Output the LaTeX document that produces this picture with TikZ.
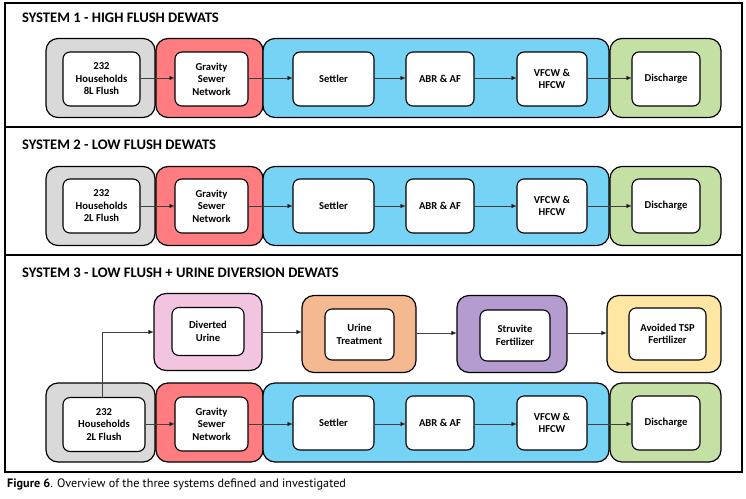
\documentclass[tikz,border=0pt]{standalone}
\usepackage{fontspec}
\setmainfont{Carlito}
\newfontfamily\capfont{PT Sans}
\usetikzlibrary{arrows.meta}
\definecolor{cgrey}{HTML}{D9D9D9}
\definecolor{cred}{HTML}{FF7C80}
\definecolor{cblue}{HTML}{76D3F5}
\definecolor{cgreen}{HTML}{C5E0A5}
\definecolor{cpink}{HTML}{F2C4DF}
\definecolor{corange}{HTML}{F4B991}
\definecolor{cpurple}{HTML}{B49BD0}
\definecolor{cyellow}{HTML}{FFE6A3}
\definecolor{carrow}{HTML}{404040}
\begin{document}
\begin{tikzpicture}[x=1pt,y=-1pt,
  outerbox/.style={draw=black,line width=1.2pt,rounded corners=12pt,minimum height=79pt,inner sep=0pt},
  innerbox/.style={draw=black,fill=white,line width=1.1pt,rounded corners=7pt,minimum height=54pt,inner sep=0pt,align=center,font=\bfseries\fontsize{10.6}{12.5}\selectfont},
  flow/.style={draw=carrow,line width=0.6pt,-{Triangle[length=5pt,width=4pt,fill=black]}},
  title/.style={anchor=west,font=\bfseries\fontsize{14.6}{16}\selectfont,inner sep=0pt},
  frame/.style={draw=black,line width=1.3pt}]
\useasboundingbox (0,0) rectangle (746,498);
% frame
\draw[frame] (5,3) rectangle (742,472);
\draw[frame] (5,127) -- (742,127);
\draw[frame] (5,255) -- (742,255);

% ---------- System 1 ----------
\node[title] (t1) at (22,18) {SYSTEM 1 - HIGH FLUSH DEWATS};
\node[outerbox,fill=cgrey,minimum width=109pt] (g1) at (100.5,78) {};
\node[outerbox,fill=cred,minimum width=107pt] (r1) at (209.5,78) {};
\node[outerbox,fill=cblue,minimum width=346pt] (b1) at (436,78) {};
\node[outerbox,fill=cgreen,minimum width=111pt] (d1) at (665.5,78) {};
\node[innerbox,minimum width=77pt] (h1) at (101.5,79) {232\\Households\\8L Flush};
\node[innerbox,minimum width=73pt] (s1) at (211.5,79) {Gravity\\Sewer\\Network};
\node[innerbox,minimum width=81pt] (st1) at (333.5,79) {Settler};
\node[innerbox,minimum width=68pt] (a1) at (440,79) {ABR \& AF};
\node[innerbox,minimum width=70pt] (v1) at (552,79) {VFCW \&\\HFCW};
\node[innerbox,minimum width=68pt] (dc1) at (666,79) {Discharge};
\draw[flow] (h1.east|-0,78) -- (s1.west|-0,78);
\draw[flow] (s1.east|-0,78) -- (st1.west|-0,78);
\draw[flow] (st1.east|-0,78) -- (a1.west|-0,78);
\draw[flow] (a1.east|-0,78) -- (v1.west|-0,78);
\draw[flow] (v1.east|-0,78) -- (dc1.west|-0,78);

% ---------- System 2 ----------
\node[title] (t2) at (22,145) {SYSTEM 2 - LOW FLUSH DEWATS};
\node[outerbox,fill=cgrey,minimum width=109pt] (g2) at (100.5,206) {};
\node[outerbox,fill=cred,minimum width=107pt] (r2) at (209.5,206) {};
\node[outerbox,fill=cblue,minimum width=346pt] (b2) at (436,206) {};
\node[outerbox,fill=cgreen,minimum width=111pt] (d2) at (665.5,206) {};
\node[innerbox,minimum width=77pt] (h2) at (101.5,206) {232\\Households\\2L Flush};
\node[innerbox,minimum width=73pt] (s2) at (211.5,206) {Gravity\\Sewer\\Network};
\node[innerbox,minimum width=81pt] (st2) at (333.5,206) {Settler};
\node[innerbox,minimum width=68pt] (a2) at (440,206) {ABR \& AF};
\node[innerbox,minimum width=70pt] (v2) at (552,206) {VFCW \&\\HFCW};
\node[innerbox,minimum width=68pt] (dc2) at (666,206) {Discharge};
\draw[flow] (h2) -- (s2);
\draw[flow] (s2) -- (st2);
\draw[flow] (st2) -- (a2);
\draw[flow] (a2) -- (v2);
\draw[flow] (v2) -- (dc2);

% ---------- System 3 ----------
\node[title] (t3) at (22,273) {SYSTEM 3 - LOW FLUSH + URINE DIVERSION DEWATS};
% top row
\node[outerbox,fill=cpink,minimum width=108pt,minimum height=77pt] (p3) at (208,332) {};
\node[outerbox,fill=corange,minimum width=114pt,minimum height=77pt] (o3) at (359,334) {};
\node[outerbox,fill=cpurple,minimum width=110pt,minimum height=77pt] (u3) at (512,334) {};
\node[outerbox,fill=cyellow,minimum width=114pt,minimum height=77pt] (y3) at (664,334) {};
\node[innerbox,minimum width=72pt,minimum height=48pt] (du) at (208,331.5) {Diverted\\Urine};
\node[innerbox,minimum width=69pt,minimum height=51pt] (ut) at (359.5,334.5) {Urine\\Treatment};
\node[innerbox,minimum width=70pt,minimum height=51pt] (sf) at (515,335.5) {Struvite\\Fertilizer};
\node[innerbox,minimum width=77pt,minimum height=52pt] (tsp) at (667.5,334) {Avoided TSP\\Fertilizer};
% bottom row
\node[outerbox,fill=cgrey,minimum width=109pt] (g3) at (100.5,422.5) {};
\node[outerbox,fill=cred,minimum width=107pt] (r3) at (209.5,422.5) {};
\node[outerbox,fill=cblue,minimum width=346pt] (b3) at (436,422.5) {};
\node[outerbox,fill=cgreen,minimum width=111pt] (d3) at (665.5,422.5) {};
\node[innerbox,minimum width=82pt] (h3) at (104,424.5) {232\\Households\\2L Flush};
\node[innerbox,minimum width=73pt] (s3) at (211.5,424) {Gravity\\Sewer\\Network};
\node[innerbox,minimum width=81pt] (st3) at (333.5,423) {Settler};
\node[innerbox,minimum width=68pt] (a3) at (440,423) {ABR \& AF};
\node[innerbox,minimum width=70pt] (v3) at (552,423) {VFCW \&\\HFCW};
\node[innerbox,minimum width=68pt] (dc3) at (666,423) {Discharge};
\coordinate (up) at (102,332);
\draw[flow] (h3.north-|up) -- (up) -- (p3.west|-up);
\draw[flow] (p3.east|-0,332) -- (o3.west|-0,332);
\draw[flow] (o3.east|-0,333) -- (u3.west|-0,333);
\draw[flow] (u3.east|-0,333) -- (y3.west|-0,333);
\draw[flow] (h3.east|-0,424) -- (s3.west|-0,424);
\draw[flow] (s3.east|-0,424) -- (st3.west|-0,424);
\draw[flow] (st3.east|-0,424) -- (a3.west|-0,424);
\draw[flow] (a3.east|-0,424) -- (v3.west|-0,424);
\draw[flow] (v3.east|-0,424) -- (dc3.west|-0,424);

% caption
\node[anchor=west,inner sep=0pt,font=\capfont\fontsize{12.2}{14}\selectfont] (cap) at (7,484) {\textbf{Figure 6}. Overview of the three systems defined and investigated};
\end{tikzpicture}
\end{document}
